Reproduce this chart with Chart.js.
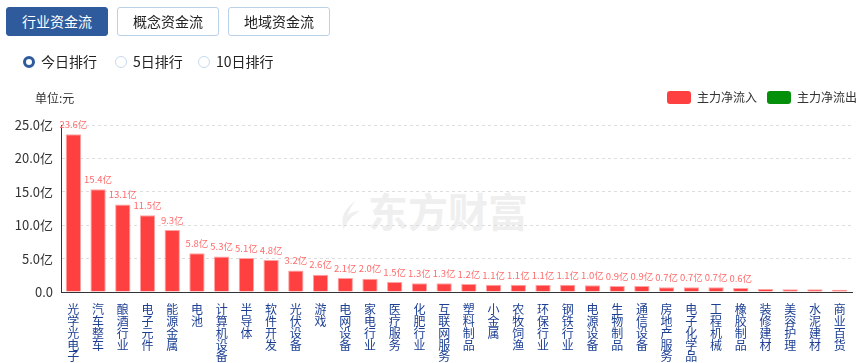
<!DOCTYPE html>
<html>
<head>
<meta charset="utf-8">
<script src="https://cdn.jsdelivr.net/npm/chart.js@4"></script>
<style>
  body { margin: 0; width: 862px; height: 363px; overflow: hidden; background: #fff;
    font-family: "Noto Sans CJK SC", "Microsoft YaHei", sans-serif; color: #333; }
  #wrap { position: relative; width: 862px; height: 363px; }
  canvas { position: absolute; left: 0; top: 0; }
  .tab { position: absolute; top: 7px; height: 27px; width: 100px; border: 1px solid #b9d2ea;
    border-radius: 3px; font-size: 14px; line-height: 27px; text-align: center; color: #222; box-sizing: content-box; }
  .tab.on { background: #2f5b9c; border-color: #2f5b9c; color: #fff; }
  .radio { position: absolute; top: 52px; font-size: 14px; line-height: 18px; color: #222; }
  .radio i { display: inline-block; width: 10px; height: 10px; border-radius: 50%; border: 1px solid #c5d9ec;
    vertical-align: -1px; margin-right: 6px; }
  .radio.on i { width: 6px; height: 6px; border: 3px solid #2f5b9c; background: #fff; }
  .unit { position: absolute; left: 35px; top: 89px; font-size: 12px; color: #333; }
  .leg { position: absolute; top: 89px; font-size: 12px; color: #333; line-height: 15px; }
  .leg b { display: inline-block; width: 24px; height: 13px; border-radius: 3px; vertical-align: -2px; margin-right: 6px; }
  .wm { position: absolute; left: 338px; top: 182px; color: #efefef; font-size: 40px; line-height: 56px; font-weight: bold; white-space: nowrap; }
  .wm svg { vertical-align: -6px; margin-right: 6px; }
</style>
</head>
<body>
<div id="wrap">
  <div class="wm"><svg width="24" height="36" viewBox="0 0 26 36"><path d="M20 2 C8 10 2 20 6 34 C10 24 16 18 24 14 C16 14 12 16 10 20 C12 12 16 6 20 2 Z" fill="#efefef"/></svg>东方财富</div>
  <canvas id="chart" width="862" height="363"></canvas>
  <div class="tab on" style="left:6px">行业资金流</div>
  <div class="tab" style="left:117px">概念资金流</div>
  <div class="tab" style="left:228px">地域资金流</div>
  <div class="radio on" style="left:23px"><i></i>今日排行</div>
  <div class="radio" style="left:115px"><i></i>5日排行</div>
  <div class="radio" style="left:198px"><i></i>10日排行</div>
  <div class="unit">单位:元</div>
  <div class="leg" style="left:667px"><b style="background:#ff4040"></b>主力净流入</div>
  <div class="leg" style="left:767px"><b style="background:#04900a"></b>主力净流出</div>
</div>
<script>
const categories = ["光学光电子", "汽车整车", "酿酒行业", "电子元件", "能源金属", "电池", "计算机设备", "半导体",
  "软件开发", "光伏设备", "游戏", "电网设备", "家电行业", "医疗服务", "化肥行业", "互联网服务",
  "塑料制品", "小金属", "农牧饲渔", "环保行业", "钢铁行业", "电源设备", "生物制品", "通信设备",
  "房地产服务", "电子化学品", "工程机械", "橡胶制品", "装修建材", "美容护理", "水泥建材", "商业百货"];
const inflow = [23.6, 15.4, 13.1, 11.5, 9.3, 5.8, 5.3, 5.1, 4.8, 3.2, 2.6, 2.1, 2.0, 1.5, 1.3, 1.3,
  1.2, 1.1, 1.1, 1.1, 1.1, 1.0, 0.9, 0.9, 0.7, 0.7, 0.7, 0.6, 0.45, 0.4, 0.4, 0.35];
const yTicks = [0, 5, 10, 15, 20, 25];

// value labels above bars (small ones have none in the original)
const valueLabels = {
  id: "valueLabels",
  afterDatasetsDraw(chart) {
    const ctx = chart.ctx;
    const meta = chart.getDatasetMeta(0);
    ctx.save();
    ctx.font = '9.5px "Noto Sans CJK SC", sans-serif';
    ctx.fillStyle = "#ff6b6b";
    ctx.textAlign = "center";
    ctx.textBaseline = "bottom";
    meta.data.forEach((bar, i) => {
      if (inflow[i] < 0.55) return;
      ctx.fillText(inflow[i].toFixed(1) + "亿", bar.x, bar.y - 5);
    });
    ctx.restore();
  }
};

new Chart(document.getElementById("chart"), {
  type: "bar",
  data: {
    labels: categories.map((c) => c.split("")),
    datasets: [{
      data: inflow,
      backgroundColor: "#ff4040",
      borderColor: "#ffa3a3",
      borderWidth: 1,
      barPercentage: 0.62,
      categoryPercentage: 1
    }]
  },
  options: {
    responsive: false,
    animation: false,
    layout: { padding: { top: 125, right: 10, left: 0, bottom: 0 } },
    plugins: { legend: { display: false }, tooltip: { enabled: false } },
    scales: {
      x: {
        grid: { display: false },
        border: { display: true, color: "#333", width: 1 },
        ticks: {
          color: "#1c3f94",
          font: { size: 12, family: '"Noto Sans CJK SC", sans-serif', lineHeight: "11.7px" },
          padding: 4,
          maxRotation: 0,
          autoSkip: false
        },
        afterFit: (s) => { s.height = 71; }
      },
      y: {
        min: 0,
        max: 25,
        afterBuildTicks: (s) => { s.ticks = yTicks.map((v) => ({ value: v })); },
        grid: { color: "#dddddd", drawTicks: false },
        border: { display: true, color: "#333", width: 1, dash: [3, 3] },
        ticks: {
          color: "#333",
          font: { size: 13, family: '"Noto Sans CJK SC", sans-serif' },
          padding: 8,
          callback: (v) => (v === 0 ? "0.0" : v.toFixed(1) + "亿")
        },
        afterFit: (s) => { s.width = 61; }
      }
    }
  },
  plugins: [valueLabels]
});
</script>
</body>
</html>
